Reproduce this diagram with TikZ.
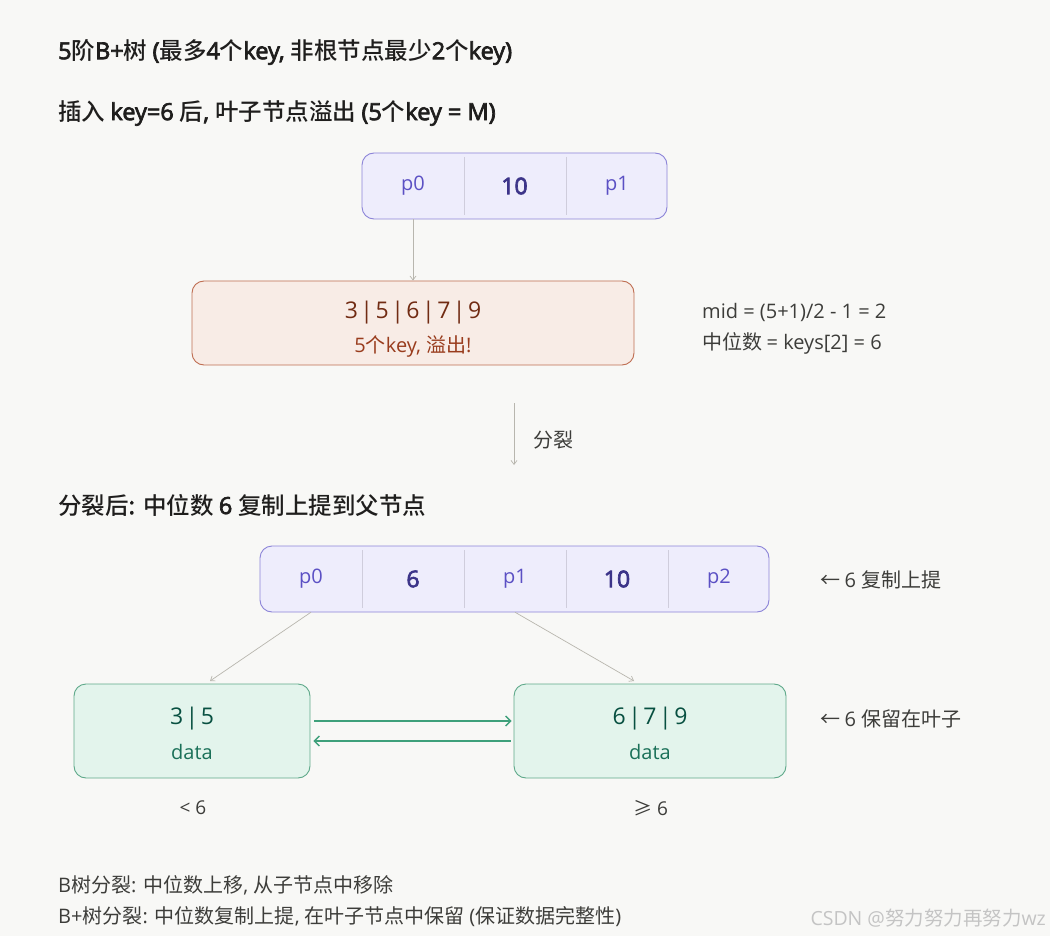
\documentclass[tikz,border=0pt]{standalone}
\usepackage{fontspec}
\setmainfont{Open Sans}[BoldFont={Open Sans},BoldFeatures={FakeBold=3}]
\newfontfamily\cjkfont{Noto Sans CJK SC}[BoldFont={Noto Sans CJK SC Medium}]
\newfontfamily\latfont{Open Sans}[BoldFont={Open Sans},BoldFeatures={FakeBold=3}]
\XeTeXinterchartokenstate=1
\newXeTeXintercharclass\CJKcls
\count255="4E00
\loop
  \XeTeXcharclass\count255=\CJKcls
  \advance\count255 by 1
\ifnum\count255<"A000 \repeat
\XeTeXcharclass"2190=\CJKcls
\XeTeXcharclass"2265=\CJKcls
\XeTeXinterchartoks 0 \CJKcls = {\cjkfont}
\XeTeXinterchartoks 4095 \CJKcls = {\cjkfont}
\XeTeXinterchartoks \CJKcls 0 = {\latfont}
\XeTeXinterchartoks 4095 0 = {\latfont}
\usetikzlibrary{arrows.meta,calc}
\definecolor{bg}{HTML}{F8F8F6}
\definecolor{pfill}{HTML}{EEEDFC}
\definecolor{pdraw}{HTML}{8C84D8}
\definecolor{ptext}{HTML}{5B50C4}
\definecolor{pbold}{HTML}{3C3489}
\definecolor{pdiv}{HTML}{CFCDDC}
\definecolor{cfill}{HTML}{F8ECE6}
\definecolor{cdraw}{HTML}{BF6E52}
\definecolor{ctext}{HTML}{712B13}
\definecolor{csub}{HTML}{993C1D}
\definecolor{gfill}{HTML}{E3F4EC}
\definecolor{gdraw}{HTML}{5FA98A}
\definecolor{gtext}{HTML}{085041}
\definecolor{gsub}{HTML}{1A7058}
\definecolor{garrow}{HTML}{3FA07B}
\definecolor{note}{HTML}{3D3D3A}
\definecolor{conn}{HTML}{B8B6AE}
\definecolor{head}{HTML}{1F1E1D}
\definecolor{wm}{HTML}{C4C4C4}
\newcommand{\sep}{\hspace{2.5pt}|\hspace{2.5pt}}
\tikzset{
  heading/.style={anchor=west,font=\fontsize{23.5}{27}\selectfont\bfseries,text=head,inner sep=0pt},
  notetext/.style={anchor=west,font=\fontsize{20}{24}\selectfont,text=note,inner sep=0pt},
  smallnote/.style={anchor=west,font=\fontsize{20}{24}\selectfont,text=note,inner sep=0pt},
  pbox/.style={draw=pdraw,fill=pfill,rounded corners=12pt,line width=0.9pt,inner sep=0pt},
  cell/.style={minimum width=102pt,minimum height=66pt,inner sep=0pt},
  ptr/.style={cell,text=ptext,font=\fontsize{20}{24}\selectfont},
  keyc/.style={cell,text=pbold,font=\fontsize{23}{27}\selectfont\bfseries},
  divline/.style={draw=pdiv,line width=0.9pt},
  conn/.style={draw=conn,line width=0.7pt,-{Straight Barb[length=4pt,width=6pt]}},
  garr/.style={draw=garrow,line width=1.3pt,-{Straight Barb[length=5pt,width=10pt]}},
  leaf/.style={draw=gdraw,fill=gfill,rounded corners=12pt,line width=0.9pt,inner sep=0pt},
  keytext/.style={font=\fontsize{23}{27}\selectfont,inner sep=0pt},
  subtext/.style={font=\fontsize{20}{24}\selectfont,inner sep=0pt},
}
\begin{document}
\begin{tikzpicture}[x=1pt,y=-1pt]
\fill[bg] (0,0) rectangle (1050,936);
\useasboundingbox (0,0) rectangle (1050,936);

% headings
\node[heading] (h1) at (58,52) {5阶B+树 (最多4个key, 非根节点最少2个key)};
\node[heading] (h2) at (58,113) {插入 key=6 后, 叶子节点溢出 (5个key = M)};

% top node
\node[pbox,minimum width=305pt,minimum height=66pt] (top) at (514.5,186) {};
\node[ptr] (t0) at (413,186) {p0};
\node[keyc] (t1) at (514.5,186) {10};
\node[ptr] (t2) at (617,186) {p1};
\draw[divline] (464,157) -- (464,215);
\draw[divline] (566,157) -- (566,215);

% overflow node
\node[draw=cdraw,fill=cfill,rounded corners=12pt,line width=0.9pt,minimum width=442pt,minimum height=84pt,inner sep=0pt] (ov) at (413,323) {};
\node[keytext,text=ctext] (ovk) at (413,313) {3\sep5\sep6\sep7\sep9};
\node[subtext,text=csub] (ovs) at (413,346) {5个key, 溢出!};
\draw[conn] (t0.south) -- (ov.north);

% notes
\node[notetext] (n1) at (702,312) {mid = (5+1)/2 - 1 = 2};
\node[notetext] (n2) at (702,343) {中位数 = keys[2] = 6};

% split arrow
\coordinate (s1) at (514,403);
\coordinate (s2) at (514,465);
\draw[conn] (s1) -- (s2);
\node[notetext] (sl) at (533,440) {分裂};

\node[heading] (h3) at (58,505) {分裂后: 中位数 6 复制上提到父节点};

% parent node
\node[pbox,minimum width=509pt,minimum height=66pt] (par) at (514.5,579) {};
\node[ptr] (q0) at (311,579) {p0};
\node[keyc] (q1) at (413,579) {6};
\node[ptr] (q2) at (515,579) {p1};
\node[keyc] (q3) at (617,579) {10};
\node[ptr] (q4) at (719,579) {p2};
\foreach \x in {362,464,566,668} \draw[divline] (\x,550) -- (\x,608);
\node[notetext] (a1) at (820,580) {← 6 复制上提};

% leaves
\node[leaf,minimum width=236pt,minimum height=94pt] (lf) at (192,731) {};
\node[keytext,text=gtext] (lfk) at (192,719) {3\sep5};
\node[subtext,text=gsub] (lfd) at (192,752) {data};
\node[leaf,minimum width=272pt,minimum height=94pt] (rf) at (650,731) {};
\node[keytext,text=gtext] (rfk) at (650,719) {6\sep7\sep9};
\node[subtext,text=gsub] (rfd) at (650,752) {data};
\node[notetext] (a2) at (820,719) {← 6 保留在叶子};

\coordinate (lin) at (210,681);
\coordinate (rin) at (634,681);
\draw[conn] (q0.south) -- (lin);
\draw[conn] (q2.south) -- (rin);

\draw[garr] ([xshift=4pt,yshift=10pt]lf.east) -- ([xshift=-2pt,yshift=10pt]rf.west);
\draw[garr] ([xshift=-3pt,yshift=-10pt]rf.west) -- ([xshift=3pt,yshift=-10pt]lf.east);

\node[text=note,font=\fontsize{19}{22}\selectfont,inner sep=0pt] (lt) at (193,808) {< 6};
\node[text=note,font=\fontsize{19}{22}\selectfont,inner sep=0pt] (ge) at (651,808) {≥ 6};

% bottom notes
\node[smallnote] (b1) at (58,885) {B树分裂: 中位数上移, 从子节点中移除};
\node[smallnote] (b2) at (58,917) {B+树分裂: 中位数复制上提, 在叶子节点中保留 (保证数据完整性)};
\node[anchor=east,text=wm,font=\fontsize{19.5}{23}\selectfont,inner sep=0pt] (wmk) at (1046,918) {CSDN @努力努力再努力wz};
\end{tikzpicture}
\end{document}
